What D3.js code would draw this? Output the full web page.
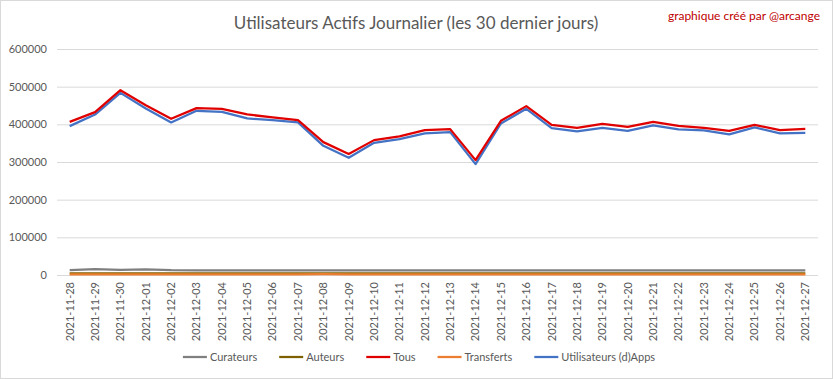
<!DOCTYPE html>
<html><head><meta charset="utf-8">
<script src="https://cdn.jsdelivr.net/npm/d3@7/dist/d3.min.js"></script>
<style>body{margin:0;background:#fff}svg{display:block;font-family:Lato,"Open Sans",sans-serif}</style>
</head><body>
<script>
const dates = ["2021-11-28","2021-11-29","2021-11-30","2021-12-01","2021-12-02","2021-12-03","2021-12-04","2021-12-05","2021-12-06","2021-12-07","2021-12-08","2021-12-09","2021-12-10","2021-12-11","2021-12-12","2021-12-13","2021-12-14","2021-12-15","2021-12-16","2021-12-17","2021-12-18","2021-12-19","2021-12-20","2021-12-21","2021-12-22","2021-12-23","2021-12-24","2021-12-25","2021-12-26","2021-12-27"];
const tous = [406600,432400,490700,450900,414600,443000,441200,426200,418300,411100,352800,321000,358100,367800,384600,387300,305000,409300,448300,398700,390800,401400,393400,406600,396000,390800,382800,398700,384600,388100];
const utilisateurs = [395200,426000,483600,442000,405000,435900,433200,415600,411100,405000,343000,311200,351000,360700,375800,379300,294400,402300,441200,389900,381200,390800,382900,397000,386400,383800,373200,391800,375800,377500];
const curateurs = [13000,15500,13500,15000,13000,12500,12500,12500,12500,12500,12500,12500,12500,12500,12500,12500,12500,12500,12500,12500,12500,12500,12500,12500,12500,12500,12500,12500,12500,12500];
const auteurs = [4500,4500,4500,4500,4500,4500,4500,4500,4500,4500,4500,4500,4500,4500,4500,4500,4500,4500,4500,4500,4500,4500,4500,4500,4500,4500,4500,4500,4500,4500];
const transferts = [1500,1500,1500,1500,1500,1500,1500,1500,1500,1500,2000,1800,1500,1500,1500,1500,1500,1500,1500,1500,1500,1500,1500,1500,1500,1500,1500,1500,1500,1500];
const yTicks = [0,100000,200000,300000,400000,500000,600000];
const seriesNames = ["Curateurs","Auteurs","Tous","Transferts","Utilisateurs (d)Apps"];
const seriesColors = ["#7f7f7f","#7f6000","#e00000","#ed7d31","#4472c4"];
const title = "Utilisateurs Actifs Journalier (les 30 dernier jours)";
const credit = "graphique créé par @arcange";

const W = 833, H = 379;
const svg = d3.select("body").append("svg").attr("width", W).attr("height", H);
svg.append("rect").attr("x",0.5).attr("y",0.5).attr("width",W-1).attr("height",H-1)
  .attr("fill","#fff").attr("stroke","#d9d9d9");

const x = d3.scaleBand().domain(dates).range([57, 818]);
const y = d3.scaleLinear().domain([0, 600000]).range([275, 49]);
const cx = d => x(d) + x.bandwidth()/2;

// gridlines
svg.append("g").selectAll("line").data(yTicks).join("line")
  .attr("x1",57).attr("x2",818).attr("y1",d=>y(d)+0.5).attr("y2",d=>y(d)+0.5)
  .attr("stroke","#d9d9d9").attr("stroke-width",1);

// y labels
svg.append("g").selectAll("text").data(yTicks).join("text")
  .attr("x",47).attr("y",d=>y(d)).attr("dy","0.35em").attr("text-anchor","end")
  .attr("font-size",11).attr("fill","#595959").text(d=>d);

// x labels
svg.append("g").selectAll("text").data(dates).join("text")
  .attr("transform",d=>`translate(${cx(d)},282) rotate(-90)`)
  .attr("dy","0.35em").attr("text-anchor","end")
  .attr("font-size",11).attr("fill","#595959").text(d=>d);

const allSeries = [curateurs, auteurs, tous, transferts, utilisateurs];
const order = [1,3,0,4,2]; // draw order
const line = d3.line().x((d,i)=>cx(dates[i])).y(d=>y(d));
order.forEach(k=>{
  svg.append("path").datum(allSeries[k]).attr("d",line)
    .attr("fill","none").attr("stroke",seriesColors[k]).attr("stroke-width",2.25)
    .attr("stroke-linejoin","round");
});

// title
svg.append("text").attr("x",416).attr("y",29).attr("text-anchor","middle")
  .attr("font-size",17).attr("fill","#595959").text(title);
svg.append("text").attr("x",820).attr("y",20).attr("text-anchor","end")
  .attr("font-size",12).attr("fill","#c00000").text(credit);

// legend
const lg = svg.append("g");
let lx = 0;
const items = [];
seriesNames.forEach((n,i)=>{
  const g = lg.append("g").attr("transform",`translate(${lx},0)`);
  g.append("line").attr("x1",0).attr("x2",24).attr("y1",0).attr("y2",0)
    .attr("stroke",seriesColors[i]).attr("stroke-width",2.25);
  const t = g.append("text").attr("x",27).attr("y",0).attr("dy","0.35em")
    .attr("font-size",11).attr("fill","#595959").text(n);
  lx += 27 + t.node().getComputedTextLength() + 22;
});
const totalW = lx - 22;
lg.attr("transform",`translate(${(185+653)/2 - totalW/2},357)`);
</script>
</body></html>
